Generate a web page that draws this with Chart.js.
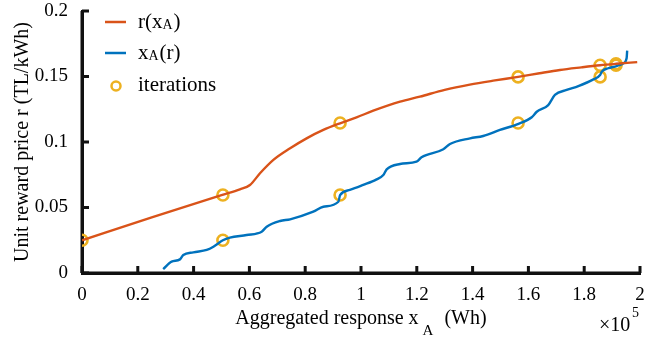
<!DOCTYPE html>
<html lang="en">
<head>
    <meta charset="UTF-8">
    <title>Iterations</title>
    <style>
        body { margin: 0; background: #fff; }
    </style>
</head>
<body>
<canvas id="chart" width="670" height="341"></canvas>

<script src="https://cdn.jsdelivr.net/npm/chart.js"></script>

<script>
    // r(xA) curve
    const rCurveX = [0, 0.25, 0.5, 0.566, 0.602, 0.638, 0.686, 0.746, 0.805, 0.865, 0.925, 0.984, 1.044, 1.14, 1.211, 1.3, 1.39, 1.48, 1.563, 1.64, 1.713, 1.79, 1.857, 1.914, 1.99];
    const rCurveY = [0.025, 0.0424, 0.0595, 0.0639, 0.0672, 0.0761, 0.0863, 0.0952, 0.1028, 0.1092, 0.1143, 0.1188, 0.1239, 0.1308, 0.1346, 0.1398, 0.1438, 0.147, 0.1497, 0.1525, 0.155, 0.157, 0.1586, 0.1597, 0.161];

    // xA(r) curve
    const xaCurveX = [0.291, 0.321, 0.351, 0.363, 0.399, 0.447, 0.471, 0.505, 0.53, 0.59, 0.644, 0.662, 0.71, 0.746, 0.829, 0.865, 0.919, 0.925, 0.96, 1.008, 1.056, 1.08, 1.092, 1.14, 1.199, 1.217, 1.295, 1.319, 1.391, 1.438, 1.498, 1.562, 1.612, 1.63, 1.671, 1.695, 1.737, 1.779, 1.833, 1.857, 1.863, 1.886, 1.916, 1.94, 1.952, 1.954];
    const xaCurveY = [0.003, 0.0087, 0.0104, 0.0137, 0.0158, 0.0176, 0.0201, 0.025, 0.027, 0.029, 0.0315, 0.0353, 0.0397, 0.041, 0.0468, 0.0506, 0.0544, 0.0595, 0.0634, 0.0672, 0.0715, 0.0748, 0.0791, 0.0832, 0.085, 0.0883, 0.0944, 0.0985, 0.1028, 0.1046, 0.1092, 0.1137, 0.1189, 0.1231, 0.1282, 0.1359, 0.1397, 0.1427, 0.1478, 0.1511, 0.1537, 0.1563, 0.158, 0.16, 0.1639, 0.1697];

    // iteration markers
    const iterX = [0, 0.505, 0.505, 0.925, 0.925, 1.563, 1.563, 1.857, 1.857, 1.914, 1.914];
    const iterY = [0.025, 0.025, 0.0595, 0.0595, 0.1145, 0.1145, 0.1497, 0.1497, 0.1586, 0.1586, 0.1597];

    const xTicks = [0, 0.2, 0.4, 0.6, 0.8, 1, 1.2, 1.4, 1.6, 1.8, 2];
    const yTicks = [0, 0.05, 0.1, 0.15, 0.2];

    const serif = '"Liberation Serif", "Times New Roman", serif';
    const orange = '#D95319';
    const blue = '#0072BD';
    const yellow = '#EDB120';
    const black = '#000000';
    const axisColor = '#111111';

    const toPoints = (xs, ys) => xs.map((x, i) => ({x: x, y: ys[i]}));
    const xMin = xTicks[0], xMax = xTicks[xTicks.length - 1];
    const yMin = yTicks[0], yMax = yTicks[yTicks.length - 1];

    // x title with subscript, x10^5, legend, and the inward ticks
    const decorations = {
        id: 'decorations',
        afterDraw(chart) {
            const ctx = chart.ctx;
            const area = chart.chartArea;
            ctx.save();
            ctx.fillStyle = black;
            ctx.textBaseline = 'alphabetic';
            ctx.textAlign = 'left';
            const main = '20px ' + serif;
            const small = '15px ' + serif;
            const part1 = 'Aggregated response x';
            const part3 = ' (Wh)';
            ctx.font = main;
            const w1 = ctx.measureText(part1).width;
            const w3 = ctx.measureText(part3).width;
            ctx.font = small;
            const wA = ctx.measureText('A').width;
            const total = w1 + 4 + wA + 6 + w3;
            const tx = (area.left + area.right) / 2 - total / 2;
            ctx.font = main;
            ctx.fillText(part1, tx, 324);
            ctx.font = small;
            ctx.fillText('A', tx + w1 + 4, 335);
            ctx.font = main;
            ctx.fillText(part3, tx + w1 + 4 + wA + 6, 324);

            ctx.font = '20px ' + serif;
            ctx.fillText('\u00d710', 599, 331);
            ctx.font = '14px ' + serif;
            ctx.fillText('5', 632, 317);

            const items = [
                {type: 'line', color: orange, text: 'r(x', sub: 'A', tail: ')', y: 22},
                {type: 'line', color: blue, text: 'x', sub: 'A', tail: '(r)', y: 53},
                {type: 'circle', color: yellow, text: 'iterations', sub: '', tail: '', y: 85}
            ];
            items.forEach(it => {
                ctx.strokeStyle = it.color;
                ctx.lineWidth = 2.5;
                ctx.beginPath();
                if (it.type === 'line') {
                    ctx.moveTo(105, it.y);
                    ctx.lineTo(126, it.y);
                } else {
                    ctx.arc(116, it.y + 1, 4.5, 0, Math.PI * 2);
                }
                ctx.stroke();
                ctx.fillStyle = black;
                ctx.textBaseline = 'middle';
                ctx.font = '21px ' + serif;
                let lx = 138;
                ctx.fillText(it.text, lx, it.y);
                lx += ctx.measureText(it.text).width;
                if (it.sub) {
                    ctx.font = '14px ' + serif;
                    ctx.fillText(it.sub, lx, it.y + 3);
                    lx += ctx.measureText(it.sub).width + 1;
                    ctx.font = '21px ' + serif;
                    ctx.fillText(it.tail, lx, it.y);
                }
            });

            // tick marks pointing into the plot
            ctx.strokeStyle = axisColor;
            ctx.lineWidth = 3;
            ctx.beginPath();
            xTicks.forEach(v => {
                const px = chart.scales.x.getPixelForValue(v);
                ctx.moveTo(px, area.bottom);
                ctx.lineTo(px, area.bottom - 7);
            });
            yTicks.forEach(v => {
                const py = chart.scales.y.getPixelForValue(v);
                ctx.moveTo(area.left, py);
                ctx.lineTo(area.left + 7, py);
            });
            ctx.stroke();
            ctx.restore();
        }
    };

    new Chart(document.getElementById('chart'), {
        type: 'scatter',
        data: {
            datasets: [{
                label: 'r(xA)',
                data: toPoints(rCurveX, rCurveY),
                showLine: true,
                borderColor: orange,
                borderWidth: 2.4,
                pointRadius: 0,
                cubicInterpolationMode: 'monotone'
            }, {
                label: 'xA(r)',
                data: toPoints(xaCurveX, xaCurveY),
                showLine: true,
                borderColor: blue,
                borderWidth: 2.4,
                pointRadius: 0,
                cubicInterpolationMode: 'monotone'
            }, {
                label: 'iterations',
                data: toPoints(iterX, iterY),
                showLine: false,
                pointStyle: 'circle',
                pointRadius: 5.5,
                borderWidth: 2.6,
                pointBorderWidth: 2.6,
                borderColor: yellow,
                pointBorderColor: yellow,
                backgroundColor: 'rgba(255,255,255,0)'
            }, {
                label: 'x axis',
                data: [{x: xMin, y: yMin}, {x: xMax, y: yMin}],
                showLine: true,
                borderColor: axisColor,
                borderWidth: 3,
                pointRadius: 0,
                clip: false
            }, {
                label: 'y axis',
                data: [{x: xMin, y: yMin}, {x: xMin, y: yMax}],
                showLine: true,
                borderColor: axisColor,
                borderWidth: 3,
                pointRadius: 0,
                clip: false
            }]
        },
        options: {
            responsive: false,
            animation: false,
            devicePixelRatio: 1,
            layout: {
                padding: {left: 0, right: 30, top: 11, bottom: 0}
            },
            plugins: {
                legend: {display: false},
                tooltip: {enabled: false}
            },
            scales: {
                x: {
                    type: 'linear',
                    min: xMin,
                    max: xMax,
                    afterBuildTicks: scale => { scale.ticks = xTicks.map(v => ({value: v})); },
                    afterFit: scale => { scale.height = 68; scale.paddingLeft = 0; scale.paddingRight = 0; },
                    grid: {display: false},
                    border: {display: true, color: axisColor, width: 3},
                    ticks: {
                        color: black,
                        font: {family: serif, size: 19},
                        padding: 3,
                        maxRotation: 0,
                        callback: v => String(+v.toFixed(2))
                    }
                },
                y: {
                    type: 'linear',
                    min: yMin,
                    max: yMax,
                    afterBuildTicks: scale => { scale.ticks = yTicks.map(v => ({value: v})); },
                    afterFit: scale => { scale.width = 82; scale.paddingTop = 0; scale.paddingBottom = 0; },
                    grid: {display: false},
                    border: {display: true, color: axisColor, width: 3},
                    ticks: {
                        color: black,
                        font: {family: serif, size: 19},
                        padding: 6,
                        callback: v => String(+v.toFixed(2))
                    },
                    title: {
                        display: true,
                        text: 'Unit reward price r (TL/kWh)',
                        color: black,
                        font: {family: serif, size: 20},
                        padding: {top: 11, bottom: 0}
                    }
                }
            }
        },
        plugins: [decorations]
    });
</script>
</body>
</html>
